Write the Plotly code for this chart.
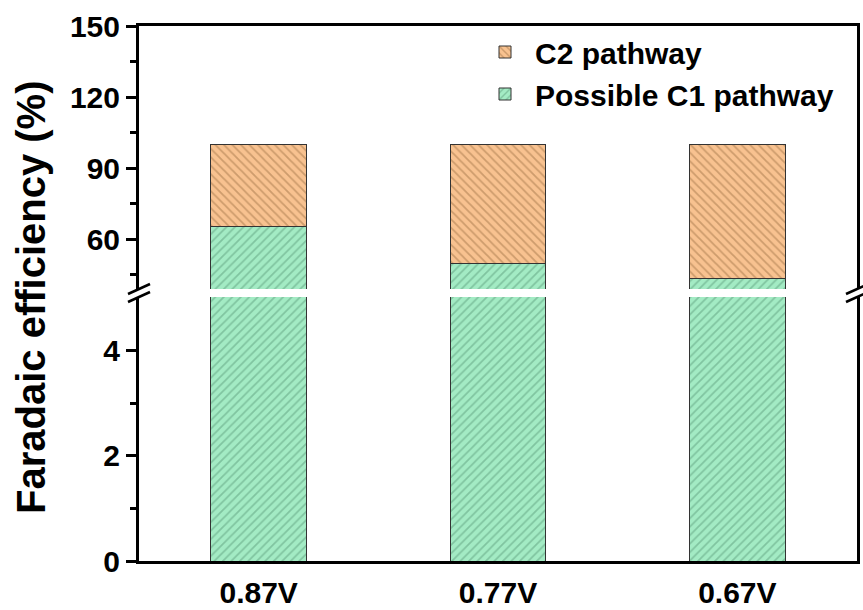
import plotly.graph_objects as go

# ---- data ----
categories = ["0.87V", "0.77V", "0.67V"]
c1_pathway = [65.2, 49.7, 43.4]   # Possible C1 pathway FE (%)
c2_pathway = [34.8, 50.3, 56.6]   # C2 pathway FE (%)
upper_ticks = [60, 90, 120, 150]
lower_ticks = [0, 2, 4]

# ---- geometry ----
W, H = 863, 610
ML, MR, MT, MB = 139, 6, 26, 49
PW, PH = W - ML - MR, H - MT - MB

def px(x):
    return (x - ML) / PW

def py(y):
    return (H - MB - y) / PH

FONT = "Arial, Liberation Sans, sans-serif"
GREEN = "#A3EBC4"
GREEN_H = "#5E9E7C"
ORANGE = "#F8C290"
ORANGE_H = "#A27548"
EDGE = "#333333"

fig = go.Figure()

# lower panel (broken axis, 0-5)
fig.add_trace(go.Bar(
    x=categories, y=c1_pathway, xaxis="x", yaxis="y",
    marker=dict(color=GREEN, line=dict(color=EDGE, width=1),
                pattern=dict(shape="/", fgcolor=GREEN_H, size=6, solidity=0.3)),
    showlegend=False, name="Possible C1 pathway"))

# upper panel (stacked)
fig.add_trace(go.Bar(
    x=categories, y=c1_pathway, xaxis="x2", yaxis="y2",
    marker=dict(color=GREEN, line=dict(color=EDGE, width=1),
                pattern=dict(shape="/", fgcolor=GREEN_H, size=6, solidity=0.3)),
    name="Possible C1 pathway", legendrank=2, legendgroup="c1"))
fig.add_trace(go.Bar(
    x=categories, y=c2_pathway, xaxis="x2", yaxis="y2",
    marker=dict(color=ORANGE, line=dict(color=EDGE, width=1),
                pattern=dict(shape="\\", fgcolor=ORANGE_H, size=6, solidity=0.3)),
    name="C2 pathway", legendrank=1, legendgroup="c2"))

lower_top = py(297)
upper_bot = py(289)

tickfont = dict(family=FONT, size=30, color="black", weight=700)

fig.update_layout(
    width=W, height=H,
    margin=dict(l=ML, r=MR, t=MT, b=MB, autoexpand=False),
    paper_bgcolor="white", plot_bgcolor="white",
    barmode="stack", bargap=0.6,
    font=dict(family=FONT, color="black", weight=700),
    xaxis=dict(domain=[0, 1], anchor="y", range=[-0.5, 2.5], automargin=False,
               showline=True, linewidth=3, linecolor="black",
               ticks="", tickfont=dict(family=FONT, size=30, color="black", weight=700),
               ticklabelstandoff=3, showgrid=False, zeroline=False),
    xaxis2=dict(domain=[0, 1], anchor="y2", matches="x", side="top", automargin=False,
                showline=True, linewidth=3, linecolor="black",
                ticks="", showticklabels=False, showgrid=False, zeroline=False),
    yaxis=dict(domain=[0, lower_top], anchor="x", range=[0, 5.02], automargin=False,
               tickvals=lower_ticks, ticks="outside", ticklen=10, tickwidth=2.5,
               tickcolor="black", tickfont=tickfont, ticklabelstandoff=0,
               minor=dict(tickvals=[1, 3], ticks="outside", ticklen=6, tickwidth=2.5, tickcolor="black"),
               showline=True, linewidth=3, linecolor="black", mirror=True,
               showgrid=False, zeroline=False),
    yaxis2=dict(domain=[upper_bot, 1], anchor="x2", range=[39, 150], automargin=False,
                tickvals=upper_ticks, ticks="outside", ticklen=10, tickwidth=2.5,
                tickcolor="black", tickfont=tickfont, ticklabelstandoff=0,
                minor=dict(tickvals=[45, 75, 105, 135], ticks="outside", ticklen=6, tickwidth=2.5, tickcolor="black"),
                showline=True, linewidth=3, linecolor="black", mirror=True,
                showgrid=False, zeroline=False),
    legend=dict(x=px(475), y=py(26), xanchor="left", yanchor="top",
                bgcolor="rgba(0,0,0,0)", borderwidth=0,
                font=dict(family=FONT, size=30, color="black", weight=700),
                itemwidth=50, tracegroupgap=0, traceorder="grouped"),
    annotations=[dict(text="Faradaic efficiency (%)", xref="paper", yref="paper",
                      x=px(31), y=py(297), xanchor="center", yanchor="middle",
                      textangle=-90, showarrow=False,
                      font=dict(family=FONT, size=40, color="black", weight=700))],
)

# axis-break marks
shapes = []
for xc in (ML, ML + PW):
    for yc in (297, 289):
        shapes.append(dict(type="line", xref="paper", yref="paper",
                           x0=px(xc - 11), y0=py(yc + 5), x1=px(xc + 11), y1=py(yc - 5),
                           line=dict(color="black", width=2.5)))
fig.update_layout(shapes=shapes)

fig.write_html("out.html")
